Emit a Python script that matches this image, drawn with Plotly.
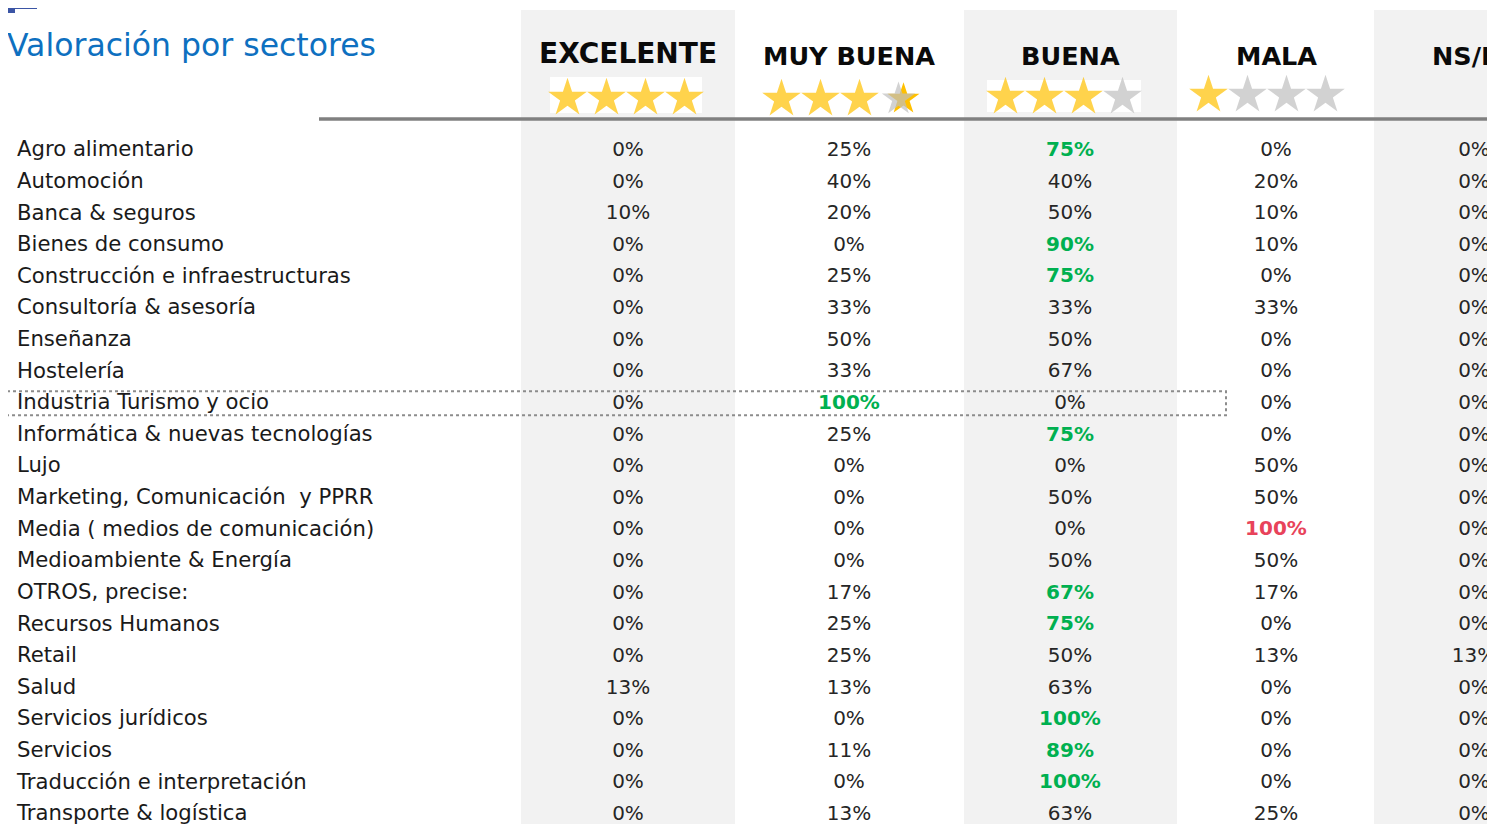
import plotly.graph_objects as go

# ---------------- data ----------------
title = "Valoración por sectores"
columns = ["EXCELENTE", "MUY BUENA", "BUENA", "MALA", "NS/NC"]
stars_gold = [4, 3, 3, 1, 0]  # gold stars shown under each header (MUY BUENA has a partial 4th)
sectors = [
    "Agro alimentario", "Automoción", "Banca & seguros", "Bienes de consumo",
    "Construcción e infraestructuras", "Consultoría & asesoría", "Enseñanza",
    "Hostelería", "Industria Turismo y ocio", "Informática & nuevas tecnologías",
    "Lujo", "Marketing, Comunicación  y PPRR", "Media ( medios de comunicación)",
    "Medioambiente & Energía", "OTROS, precise:", "Recursos Humanos", "Retail",
    "Salud", "Servicios jurídicos", "Servicios", "Traducción e interpretación",
    "Transporte & logística",
]
excelente = [0, 0, 10, 0, 0, 0, 0, 0, 0, 0, 0, 0, 0, 0, 0, 0, 0, 13, 0, 0, 0, 0]
muy_buena = [25, 40, 20, 0, 25, 33, 50, 33, 100, 25, 0, 0, 0, 0, 17, 25, 25, 13, 0, 11, 0, 13]
buena     = [75, 40, 50, 90, 75, 33, 50, 67, 0, 75, 0, 50, 0, 50, 67, 75, 50, 63, 100, 89, 100, 63]
mala      = [0, 20, 10, 10, 0, 33, 0, 0, 0, 0, 50, 50, 100, 50, 17, 0, 13, 0, 0, 0, 0, 25]
nsnc      = [0, 0, 0, 0, 0, 0, 0, 0, 0, 0, 0, 0, 0, 0, 0, 0, 13, 0, 0, 0, 0, 0]
values = [excelente, muy_buena, buena, mala, nsnc]
# highlight flags: "g" = green bold, "r" = red bold
highlight = {
    ("Agro alimentario", "BUENA"): "g", ("Bienes de consumo", "BUENA"): "g",
    ("Construcción e infraestructuras", "BUENA"): "g",
    ("Industria Turismo y ocio", "MUY BUENA"): "g",
    ("Informática & nuevas tecnologías", "BUENA"): "g",
    ("OTROS, precise:", "BUENA"): "g", ("Recursos Humanos", "BUENA"): "g",
    ("Servicios jurídicos", "BUENA"): "g", ("Servicios", "BUENA"): "g",
    ("Traducción e interpretación", "BUENA"): "g",
    ("Media ( medios de comunicación)", "MALA"): "r",
}
boxed_sector = "Industria Turismo y ocio"

# ---------------- layout constants ----------------
W, H = 1495, 824
OFF = 8  # page body margin in the browser
COL_X = [628, 849, 1070, 1276, 1474]
SHADE = [(521, 735), (964, 1177), (1374, 1520)]
ROW0_PX, ROW_H = 151, 31.62
LABEL_X = 17
GREEN, RED, TXT = "#00B050", "#E8435A", "#262626"
GOLD, GREY = "#FFC000", "#BFBFBF"
FONT = "DejaVu Sans"


def py(px):
    return 1 - (px - OFF) / H


def px_(x):
    return (x - OFF) / W


fig = go.Figure()

fig.add_trace(go.Scatter(
    x=[LABEL_X] * len(sectors), y=list(range(len(sectors))), text=sectors,
    mode="text", textposition="middle right", cliponaxis=False,
    textfont=dict(family=FONT, size=21.2, color="#1a1a1a"), hoverinfo="skip"))

for ci, col in enumerate(columns):
    txt, colors = [], []
    for ri, s in enumerate(sectors):
        v = f"{values[ci][ri]}%"
        h = highlight.get((s, col), "")
        if h:
            txt.append(f"<b>{v}</b>")
            colors.append(GREEN if h == "g" else RED)
        else:
            txt.append(v)
            colors.append(TXT)
    fig.add_trace(go.Scatter(
        x=[COL_X[ci]] * len(sectors), y=list(range(len(sectors))), text=txt,
        mode="text", textposition="middle center", cliponaxis=False,
        textfont=dict(family=FONT, size=20, color=colors), hoverinfo="skip"))

shapes = []
for x0, x1 in SHADE:
    shapes.append(dict(type="rect", xref="x", yref="paper", x0=x0, x1=x1,
                       y0=-0.1, y1=py(10), fillcolor="#F2F2F2", line_width=0, layer="below"))
for x0, x1, y0, y1 in [(550, 702, 77, 113), (987, 1141, 80, 112)]:
    shapes.append(dict(type="rect", xref="x", yref="paper", x0=x0, x1=x1,
                       y0=py(y1), y1=py(y0), fillcolor="white", line_width=0, layer="below"))
shapes.append(dict(type="line", xref="x", yref="paper", x0=319, x1=1520,
                   y0=py(119), y1=py(119), line=dict(color="#808080", width=3.5)))
shapes.append(dict(type="rect", xref="paper", yref="paper", x0=px_(0), x1=px_(37),
                   y0=py(9), y1=py(6), fillcolor="#3B55A5", line_width=0))
shapes.append(dict(type="rect", xref="paper", yref="paper", x0=px_(0), x1=px_(15),
                   y0=py(13), y1=py(9), fillcolor="#3B55A5", line_width=0))
bi = sectors.index(boxed_sector)
shapes.append(dict(type="rect", xref="x", yref="y", x0=7, x1=1226,
                   y0=bi - 0.40, y1=bi + 0.36,
                   line=dict(color="#8C8C8C", width=2, dash="dot"), fillcolor="rgba(0,0,0,0)"))

annotations = [dict(text=title, x=px_(5), y=py(45), xref="paper", yref="paper", xanchor="left",
                    yanchor="middle", showarrow=False,
                    font=dict(family=FONT, size=31.5, color="#0E70C0"))]
header_y = [53, 56, 56, 56, 56]
for ci, col in enumerate(columns):
    annotations.append(dict(text=f"<b>{col}</b>", x=px_(COL_X[ci] + (2 if ci == 4 else 0)),
                            y=py(header_y[ci]), xref="paper",
                            yref="paper", xanchor="center", yanchor="middle", showarrow=False,
                            font=dict(family="DejaVu Sans", size=28 if ci == 0 else 25.5,
                                      color="#0a0a0a")))

star_rows = [(626, 97), (840, 98), (1064, 96), (1267, 94)]
for ci, (cx, cy) in enumerate(star_rows):
    xs = [cx + (k - 1.5) * 39 for k in range(4)]
    cols = [GOLD if k < stars_gold[ci] else GREY for k in range(4)]
    sizes = [29] * 4
    if ci == 1:
        fig.add_trace(go.Scatter(x=[xs[3] + 5], y=[py(cy + 1)], yaxis="y2", mode="markers",
                                 marker=dict(symbol="star", size=24, color=GOLD, line_width=0),
                                 hoverinfo="skip"))
        sizes[3] = 25
    fig.add_trace(go.Scatter(x=xs, y=[py(cy + 1)] * 4, yaxis="y2", mode="markers",
                             marker=dict(symbol="star", size=sizes, color=cols, line_width=0),
                             hoverinfo="skip"))

fig.update_layout(
    width=W, height=H, margin=dict(l=0, r=0, t=0, b=0),
    paper_bgcolor="white", plot_bgcolor="white", showlegend=False,
    xaxis=dict(range=[OFF, W + OFF], visible=False, fixedrange=True),
    yaxis=dict(range=[(H + OFF - ROW0_PX) / ROW_H, (OFF - ROW0_PX) / ROW_H],
               visible=False, fixedrange=True),
    yaxis2=dict(range=[0, 1], overlaying="y", visible=False, fixedrange=True),
    shapes=shapes, annotations=annotations,
)
fig.write_html("out.html")
